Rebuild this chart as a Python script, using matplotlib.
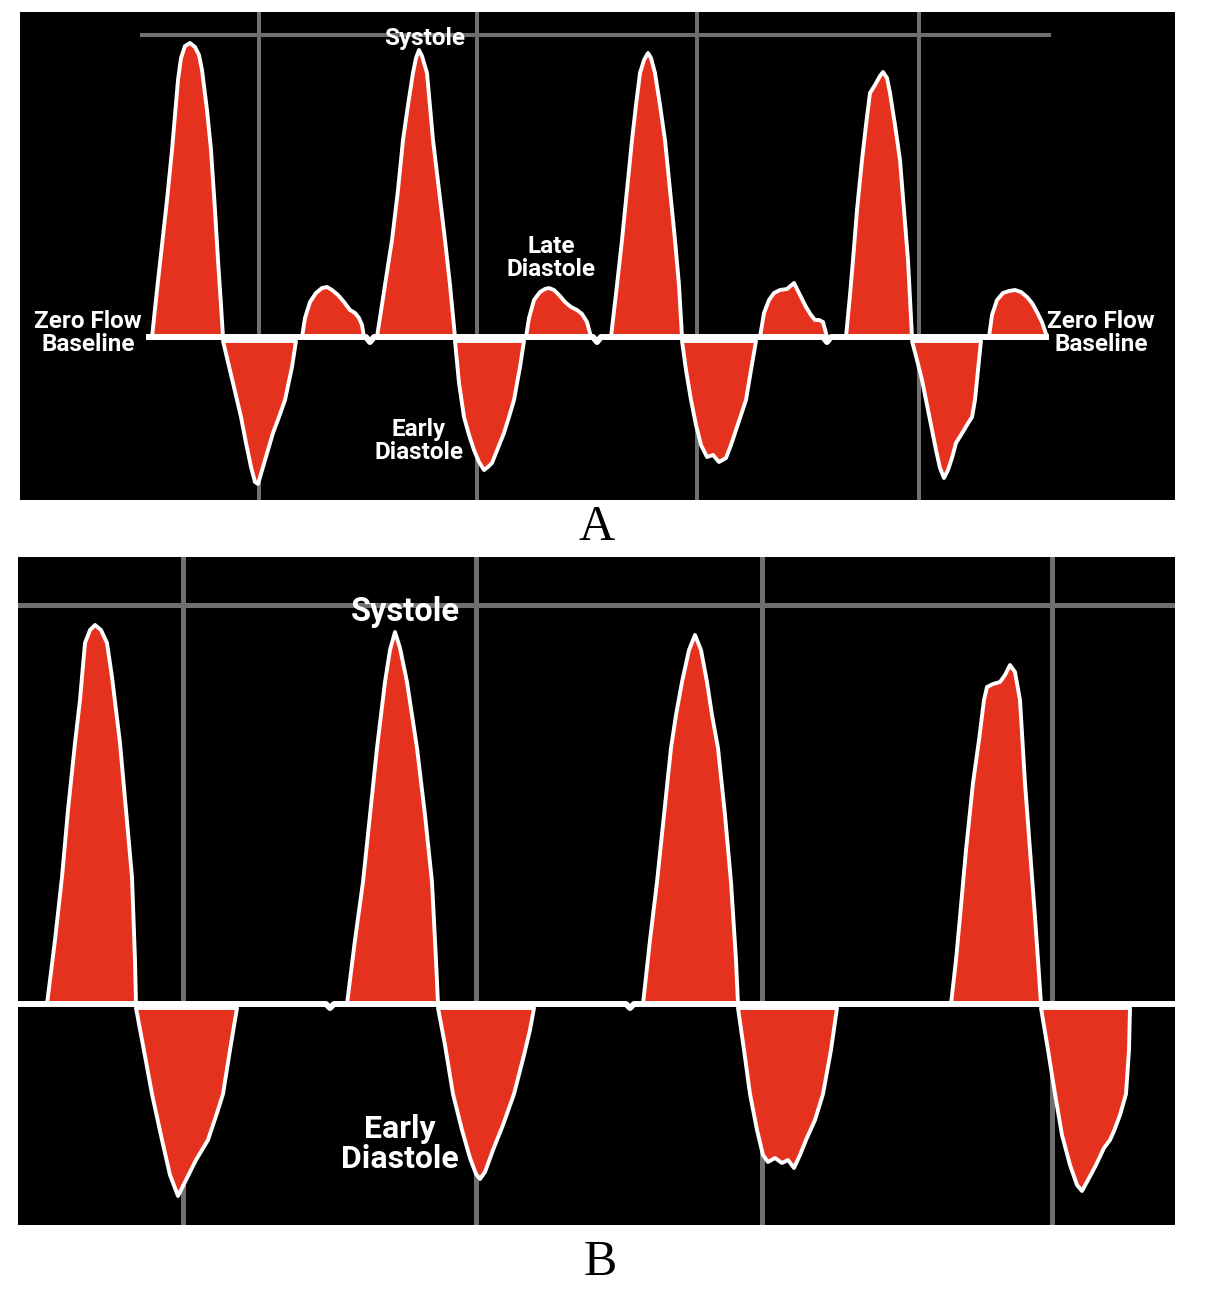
import matplotlib
matplotlib.use("Agg")
import matplotlib.pyplot as plt

# ---- panel A: Doppler trace, time (x) vs velocity (v, + toward probe) ----
a_sys1_x = [152, 157, 162, 167, 172, 175, 178, 181, 185, 190, 195, 199, 202, 207, 211, 215, 218, 221, 223]
a_sys1_v = [0, 47, 92, 137, 187, 222, 257, 279, 291, 294, 290, 282, 267, 227, 187, 127, 77, 32, 0]
a_ed1_x = [223, 228, 233, 241, 246, 251, 255, 258, 263, 268, 273, 279, 285, 292, 296]
a_ed1_v = [-4, -25, -46, -80, -106, -130, -145, -147, -130, -113, -96, -80, -63, -30, -4]
a_ld1_x = [302, 305, 310, 316, 322, 327, 332, 338, 344, 350, 355, 359, 362, 364]
a_ld1_v = [0, 19, 35, 44, 49, 50, 47, 42, 35, 27, 24, 19, 12, 0]

a_sys2_x = [377, 385, 392, 398, 403, 408, 413, 416, 419, 422, 427, 433, 439, 445, 450, 455]
a_sys2_v = [0, 52, 97, 147, 197, 232, 264, 279, 287, 281, 264, 197, 147, 97, 52, 0]
a_ed2_x = [455, 459, 464, 469, 474, 479, 484, 488, 492, 498, 504, 509, 514, 520, 524]
a_ed2_v = [-4, -46, -80, -98, -113, -125, -133, -130, -126, -111, -96, -80, -63, -30, -4]
a_ld2_x = [526, 529, 534, 540, 545, 549, 554, 560, 565, 571, 577, 582, 587, 591]
a_ld2_v = [0, 19, 37, 45, 48, 49, 47, 41, 35, 30, 27, 23, 15, 0]

a_sys3_x = [611, 617, 622, 627, 632, 636, 640, 644, 648, 651, 655, 660, 665, 670, 675, 679, 682]
a_sys3_v = [0, 52, 97, 147, 197, 232, 264, 277, 284, 279, 264, 232, 197, 147, 97, 52, 0]
a_ed3_x = [682, 686, 691, 696, 701, 707, 713, 719, 726, 731, 736, 741, 746, 751, 756]
a_ed3_v = [-4, -33, -63, -88, -108, -120, -118, -125, -121, -108, -93, -78, -63, -33, -4]
a_ld3_x = [760, 764, 769, 774, 780, 787, 794, 800, 806, 811, 815, 819, 823, 827]
a_ld3_v = [0, 24, 37, 44, 47, 48, 54, 42, 30, 22, 17, 17, 15, 0]

a_sys4_x = [846, 850, 853, 857, 862, 866, 870, 875, 880, 883, 887, 890, 895, 900, 904, 908, 912]
a_sys4_v = [0, 42, 77, 127, 177, 212, 244, 252, 261, 265, 259, 244, 212, 177, 127, 77, 0]
a_ed4_x = [912, 917, 922, 926, 931, 936, 940, 944, 948, 952, 956, 961, 967, 972, 975, 978, 981]
a_ed4_v = [-4, -23, -43, -63, -88, -113, -131, -141, -133, -121, -106, -98, -88, -80, -63, -33, -4]
a_ld4_x = [989, 992, 997, 1003, 1009, 1015, 1021, 1027, 1032, 1037, 1042, 1047]
a_ld4_v = [0, 22, 37, 44, 46, 47, 45, 40, 34, 25, 15, 0]

a_base_x = [146, 366, 370, 374, 593, 597, 601, 823, 827, 831, 1049]
a_base_v = [0, 0, -5, 0, 0, -5, 0, 0, -5, 0, 0]
a_grid_x = [259, 477, 697, 919]
a_grid_v = 302
a_grid_span = [142, 1049]

# ---- panel B ----
b_sys1_x = [47, 55, 62, 68, 75, 80, 82, 85, 90, 95, 101, 107, 112, 116, 120, 126, 132, 135, 136]
b_sys1_v = [0, 64, 127, 194, 261, 304, 327, 361, 374, 379, 374, 361, 327, 294, 261, 194, 127, 44, 0]
b_ed1_x = [136, 142, 152, 162, 170, 178, 186, 196, 208, 218, 223, 230, 237]
b_ed1_v = [-4, -36, -90, -136, -171, -192, -176, -156, -136, -106, -90, -46, -4]

b_sys2_x = [347, 355, 363, 370, 377, 381, 385, 390, 395, 400, 407, 412, 417, 425, 432, 436, 438]
b_sys2_v = [0, 64, 122, 189, 256, 289, 322, 354, 372, 356, 322, 289, 256, 189, 122, 44, 0]
b_ed2_x = [438, 445, 453, 462, 470, 476, 480, 485, 493, 503, 514, 524, 530, 534]
b_ed2_v = [-4, -41, -90, -126, -154, -170, -175, -168, -146, -121, -90, -51, -26, -4]

b_sys3_x = [643, 650, 657, 664, 671, 676, 682, 689, 695, 701, 707, 712, 718, 725, 731, 736, 738]
b_sys3_v = [0, 64, 122, 189, 256, 289, 322, 354, 369, 354, 322, 289, 256, 189, 122, 44, 0]
b_ed3_x = [738, 744, 750, 757, 763, 768, 775, 782, 788, 794, 800, 806, 815, 823, 831, 837]
b_ed3_v = [-4, -46, -90, -126, -151, -158, -154, -159, -156, -164, -151, -136, -116, -90, -46, -4]

b_sys4_x = [951, 956, 960, 966, 973, 979, 984, 987, 993, 1000, 1005, 1010, 1015,
            1020, 1025, 1030, 1035, 1038, 1041]
b_sys4_v = [0, 44, 87, 154, 221, 264, 304, 317, 320, 322, 329, 339, 332,
            304, 221, 154, 87, 44, 0]
b_ed4_x = [1041, 1048, 1055, 1062, 1070, 1077, 1082, 1088, 1096, 1104, 1110, 1114, 1120, 1126, 1129, 1130]
b_ed4_v = [-4, -46, -90, -131, -161, -181, -187, -176, -161, -144, -136, -127, -111, -90, -46, -4]

b_base_x = [18, 326, 330, 334, 626, 630, 634, 1175]
b_base_v = [0, 0, -4, 0, 0, -4, 0, 0]
b_grid_x = [183, 476, 762, 1052]
b_grid_v = 399
b_grid_span = [18, 1175]

RED = "#e4321f"
GRID = "#6f6f6f"
LABEL_FONT = ["Roboto", "DejaVu Sans"]


def draw_panel(ax, waves, base_x, base_v, grid_x, grid_v, grid_span, xlim, ylim, grid_lw):
    ax.set_facecolor("black")
    ax.set_xlim(*xlim)
    ax.set_ylim(*ylim)
    ax.set_xticks([])
    ax.set_yticks([])
    for s in ax.spines.values():
        s.set_visible(False)
    for gx in grid_x:
        ax.axvline(gx, color=GRID, lw=grid_lw, zorder=1)
    ax.plot(grid_span, [grid_v, grid_v], color=GRID, lw=grid_lw, zorder=1)
    for wx, wv in waves:
        ax.fill(wx, wv, facecolor=RED, edgecolor="white", lw=2.8, joinstyle="round", zorder=2)
    ax.plot(base_x, base_v, color="white", lw=4.3, solid_capstyle="butt", zorder=3)


fig = plt.figure(figsize=(12.17, 12.92), dpi=100)
W, H = 1217, 1292

ax_a = fig.add_axes([20 / W, 1 - 500 / H, 1155 / W, 488 / H])
draw_panel(ax_a,
           [(a_sys1_x, a_sys1_v), (a_ed1_x, a_ed1_v), (a_ld1_x, a_ld1_v),
            (a_sys2_x, a_sys2_v), (a_ed2_x, a_ed2_v), (a_ld2_x, a_ld2_v),
            (a_sys3_x, a_sys3_v), (a_ed3_x, a_ed3_v), (a_ld3_x, a_ld3_v),
            (a_sys4_x, a_sys4_v), (a_ed4_x, a_ed4_v), (a_ld4_x, a_ld4_v)],
           a_base_x, a_base_v, a_grid_x, a_grid_v, a_grid_span,
           (20, 1175), (-163, 325), 2.9)

txt = dict(color="white", family=LABEL_FONT, weight="bold", ha="center", va="center", zorder=5)
ax_a.text(425, 299, "Systole", fontsize=17.5, **txt)
ax_a.text(551, 79, "Late\nDiastole", fontsize=17.5, linespacing=1.05, **txt)
ax_a.text(419, -104, "Early\nDiastole", fontsize=17.5, linespacing=1.05, **txt)
ax_a.text(88, 4, "Zero Flow\nBaseline", fontsize=17.5, linespacing=1.05, **txt)
ax_a.text(1101, 4, "Zero Flow\nBaseline", fontsize=17.5, linespacing=1.05, **txt)

ax_b = fig.add_axes([18 / W, 1 - 1225 / H, 1157 / W, 668 / H])
draw_panel(ax_b,
           [(b_sys1_x, b_sys1_v), (b_ed1_x, b_ed1_v),
            (b_sys2_x, b_sys2_v), (b_ed2_x, b_ed2_v),
            (b_sys3_x, b_sys3_v), (b_ed3_x, b_ed3_v),
            (b_sys4_x, b_sys4_v), (b_ed4_x, b_ed4_v)],
           b_base_x, b_base_v, b_grid_x, b_grid_v, b_grid_span,
           (18, 1175), (-221, 447), 3.6)

ax_b.text(405, 392, "Systole", fontsize=23.5, **txt)
ax_b.text(400, -140, "Early\nDiastole", fontsize=23, linespacing=1.0, **txt)

fig.text(597 / W, 1 - 528 / H, "A", fontsize=36, family="Liberation Serif",
         ha="center", va="center")
fig.text(600 / W, 1 - 1263 / H, "B", fontsize=36, family="Liberation Serif",
         ha="center", va="center")

fig.savefig("out.png", dpi=100, facecolor="white")
